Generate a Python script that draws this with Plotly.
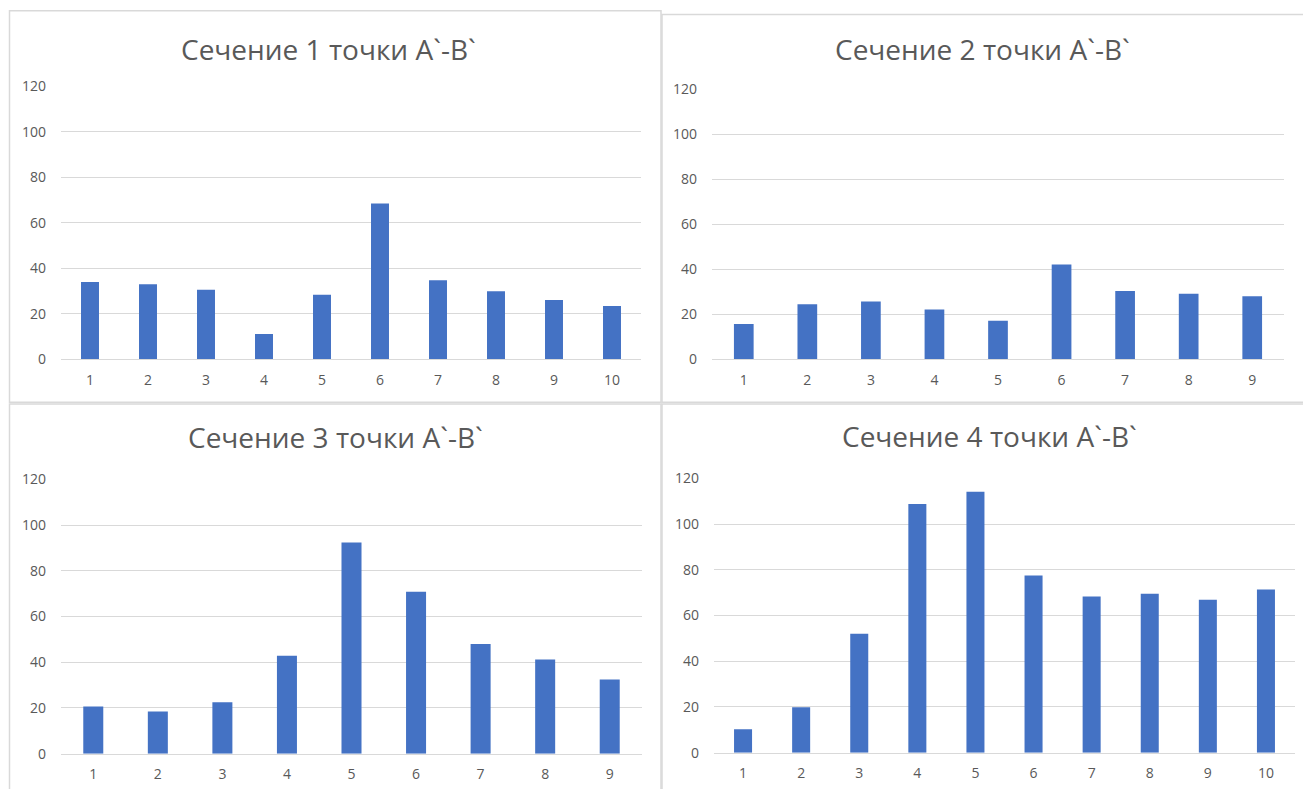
import plotly.graph_objects as go

W, H = 1303, 789

titles = ["Сечение 1 точки А`-В`", "Сечение 2 точки А`-В`",
          "Сечение 3 точки А`-В`", "Сечение 4 точки А`-В`"]
cats1 = [str(i) for i in range(1, 11)]
cats2 = [str(i) for i in range(1, 10)]
cats3 = [str(i) for i in range(1, 10)]
cats4 = [str(i) for i in range(1, 11)]
vals1 = [34.0, 33.0, 30.6, 11.1, 28.4, 68.5, 34.7, 29.9, 26.1, 23.4]
vals2 = [15.7, 24.5, 25.7, 22.1, 17.2, 42.1, 30.3, 29.1, 28.0]
vals3 = [20.6, 18.4, 22.5, 42.8, 92.4, 70.9, 48.0, 41.2, 32.4]
vals4 = [10.2, 19.9, 52.0, 108.8, 114.2, 77.5, 68.3, 69.5, 66.9, 71.4]
y_ticks = [0, 20, 40, 60, 80, 100, 120]

BAR = "#4472C4"
GRID = "#D9D9D9"
TXT = "#595959"
FONT = "Open Sans"

# pixel geometry in page coords: (plot x0, x1, y_top(120), y_bottom(0)), border rect, title center
panels = [
    dict(cats=cats1, vals=vals1, plot=(61, 641, 78, 358), border=(9.5, 661, 0.8, 402), tc=(329, 40)),
    dict(cats=cats2, vals=vals2, plot=(712, 1284, 81, 358), border=(662, 1310, 4.6, 402), tc=(982, 40)),
    dict(cats=cats3, vals=vals3, plot=(61, 642, 481, 762), border=(9.5, 661, 403.6, 820), tc=(335, 438)),
    dict(cats=cats4, vals=vals4, plot=(714, 1295, 480, 761), border=(662, 1310, 403.6, 820), tc=(989, 437)),
]

fig = go.Figure()
shapes = []
annotations = []
for i, p in enumerate(panels):
    n = i + 1
    xa = "x" if n == 1 else f"x{n}"
    ya = "y" if n == 1 else f"y{n}"
    fig.add_trace(go.Bar(x=p["cats"], y=p["vals"], marker_color=BAR, marker_line_width=0,
                         width=0.31, xaxis=xa, yaxis=ya, showlegend=False))
    x0, x1, yt, yb = p["plot"]
    xkey = "xaxis" if n == 1 else f"xaxis{n}"
    ykey = "yaxis" if n == 1 else f"yaxis{n}"
    fig.update_layout(**{
        xkey: dict(domain=[x0 / W, x1 / W], anchor=ya, type="category",
                   range=[-0.5, len(p["cats"]) - 0.5], showgrid=False, zeroline=False,
                   showline=True, linecolor=GRID, linewidth=1, ticks="",
                   tickfont=dict(family=FONT, size=14, color=TXT), ticklabelstandoff=8),
        ykey: dict(domain=[1 - yb / H, 1 - yt / H], anchor=xa, range=[0, 120],
                   tickvals=y_ticks, showgrid=True, gridcolor=GRID, gridwidth=1,
                   zeroline=False, showline=False, ticks="",
                   tickfont=dict(family=FONT, size=14, color=TXT), ticklabelstandoff=14),
    })
    bx0, bx1, by0, by1 = p["border"]
    shapes.append(dict(type="rect", xref="paper", yref="paper",
                       x0=bx0 / W, x1=bx1 / W, y0=1 - by1 / H, y1=1 - by0 / H,
                       line=dict(color=GRID, width=1.5), fillcolor="rgba(0,0,0,0)", layer="below"))
    tcx, tcy = p["tc"]
    annotations.append(dict(text=titles[i], xref="paper", yref="paper",
                            x=tcx / W, y=1 - tcy / H, xanchor="center", yanchor="middle",
                            showarrow=False, font=dict(family=FONT, size=28, color=TXT)))

fig.update_layout(width=W, height=H, margin=dict(l=0, r=0, t=0, b=0),
                  paper_bgcolor="white", plot_bgcolor="white",
                  shapes=shapes, annotations=annotations, bargap=0.69)

post = (
    "document.documentElement.style.margin='0';"
    "document.documentElement.style.overflow='hidden';"
    "document.body.style.margin='0';"
    "document.body.style.overflow='hidden';"
    "var g=document.getElementsByClassName('plotly-graph-div')[0];"
    "g.style.position='fixed';g.style.top='0px';g.style.left='0px';"
)
fig.write_html("out.html", config={"displayModeBar": False}, post_script=post)
